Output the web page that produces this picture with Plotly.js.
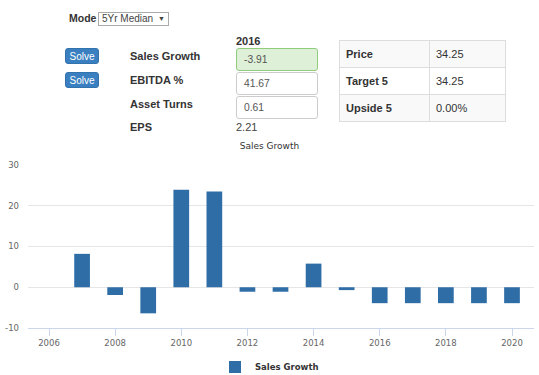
<!DOCTYPE html>
<html><head><meta charset="utf-8">
<script src="https://cdn.plot.ly/plotly-3.0.1.min.js"></script>
<style>
html,body{margin:0;padding:0;background:#fff;}
body{width:539px;height:375px;position:relative;overflow:hidden;font-family:"Liberation Sans",Arial,sans-serif;color:#333;}
#chart{position:absolute;left:0;top:0;width:539px;height:375px;}
.ov{position:absolute;z-index:10;white-space:nowrap;}
.lbl{font-weight:bold;font-size:11px;line-height:14px;color:#333;}
.btn{background:#3a7fc0;color:#fff;font-size:10px;border-radius:3px;width:34px;height:16px;line-height:15px;text-align:center;border:1px solid #3272ad;box-sizing:border-box;}
.inp{width:82px;height:23px;box-sizing:border-box;border:1px solid #ccc;border-radius:3px;background:#fff;font-size:10.3px;color:#555;padding-left:7px;line-height:21px;}
.inp.ok{background:#dff0d8;border-color:#8fcd7c;}
.sel{left:98px;top:12px;width:71px;height:14px;box-sizing:border-box;border:1px solid #aaa;background:#fff;font-size:10px;line-height:12px;color:#444;padding-left:3px;}
table.t{position:absolute;z-index:10;left:339px;top:40px;border-collapse:collapse;font-size:11px;}
table.t td{border:1px solid #ddd;height:27px;padding:0 0 0 6px;box-sizing:border-box;color:#333;}
table.t td.k{width:90px;font-weight:bold;}
table.t td.v{width:76px;}
table.t tr.s td{background:#f9f9f9;}
</style>
</head>
<body>
<div id="chart"></div>
<div id="form"></div>
<script>
// ---- data ----
var years = [2007, 2008, 2009, 2010, 2011, 2012, 2013, 2014, 2015, 2016, 2017, 2018, 2019, 2020];
var salesGrowth = [8.2, -1.9, -6.4, 23.9, 23.5, -1.1, -1.1, 5.8, -0.7, -3.91, -3.91, -3.91, -3.91, -3.91];
var xTickYears = [2006, 2008, 2010, 2012, 2014, 2016, 2018, 2020];
var yTicks = [-10, 0, 10, 20, 30];
var seriesName = 'Sales Growth';
var chartTitle = 'Sales Growth';

var modeLabel = 'Mode';
var modeValue = '5Yr Median';
var yearHeader = '2016';
var formLabels = ['Sales Growth', 'EBITDA %', 'Asset Turns', 'EPS'];
var formValues = ['-3.91', '41.67', '0.61', '2.21'];
var tableLabels = ['Price', 'Target 5', 'Upside 5'];
var tableValues = ['34.25', '34.25', '0.00%'];

// ---- form (HTML) ----
var f = document.getElementById('form');
var h = '';
h += '<div class="ov lbl" style="left:69px;top:11px;font-size:10.5px">' + modeLabel + '</div>';
h += '<div class="ov sel">' + modeValue + '<span style="position:absolute;left:59px;top:0;font-size:7px">&#9660;</span></div>';
h += '<div class="ov lbl" style="left:236px;top:33.5px">' + yearHeader + '</div>';
h += '<div class="ov btn" style="left:65px;top:48px">Solve</div>';
h += '<div class="ov btn" style="left:65px;top:72px">Solve</div>';
var labelTops = [49, 73, 97, 119.5];
for (var i = 0; i < formLabels.length; i++) {
  h += '<div class="ov lbl" style="left:130px;top:' + labelTops[i] + 'px">' + formLabels[i] + '</div>';
}
var boxTops = [48, 72, 96];
for (var j = 0; j < 3; j++) {
  h += '<div class="ov inp' + (j === 0 ? ' ok' : '') + '" style="left:236px;top:' + boxTops[j] + 'px">' + formValues[j] + '</div>';
}
h += '<div class="ov" style="left:236px;top:119.5px;font-size:11px;line-height:14px;color:#444">' + formValues[3] + '</div>';
h += '<table class="t">';
for (var k = 0; k < tableLabels.length; k++) {
  h += '<tr' + (k % 2 === 0 ? ' class="s"' : '') + '><td class="k">' + tableLabels[k] + '</td><td class="v">' + tableValues[k] + '</td></tr>';
}
h += '</table>';
f.innerHTML = h;

// ---- chart ----
var tickFont = {family: 'DejaVu Sans', size: 8.5, color: '#666'};
var trace = {
  type: 'bar',
  x: years,
  y: salesGrowth,
  name: seriesName,
  width: 0.475,
  marker: {color: '#2f6da6', line: {width: 0}},
  showlegend: true,
  hoverinfo: 'skip'
};
var layout = {
  width: 539,
  height: 375,
  margin: {l: 28, r: 5, t: 165, b: 47, pad: 0},
  paper_bgcolor: '#fff',
  plot_bgcolor: '#fff',
  title: {
    text: chartTitle,
    font: {family: 'DejaVu Sans', size: 9, color: '#333'},
    xref: 'container', x: 0.5, xanchor: 'center',
    yref: 'container', y: 1 - 146 / 375, yanchor: 'middle'
  },
  xaxis: {
    range: [2005.365, 2020.665],
    tickmode: 'array',
    tickvals: xTickYears,
    ticktext: xTickYears.map(String),
    showgrid: false,
    zeroline: false,
    showline: true,
    linecolor: '#ccd6eb',
    linewidth: 1,
    ticks: 'outside',
    ticklen: 7,
    tickwidth: 1,
    tickcolor: '#ccd6eb',
    tickfont: tickFont,
    fixedrange: true
  },
  yaxis: {
    range: [-10, 30],
    tickmode: 'array',
    tickvals: yTicks,
    ticktext: yTicks.map(String),
    showgrid: true,
    gridcolor: '#e6e6e6',
    gridwidth: 1,
    zeroline: false,
    showline: false,
    ticks: '',
    ticklabelstandoff: 8,
    tickfont: tickFont,
    fixedrange: true
  },
  showlegend: true,
  legend: {
    orientation: 'h',
    xref: 'container', x: 0.5, xanchor: 'center',
    yref: 'container', y: 1 - 367 / 375, yanchor: 'middle',
    font: {family: 'DejaVu Sans', size: 8.5, weight: 'bold', color: '#333'},
    bgcolor: 'rgba(0,0,0,0)'
  }
};
Plotly.newPlot('chart', [trace], layout, {displayModeBar: false, staticPlot: true});
</script>
</body></html>
